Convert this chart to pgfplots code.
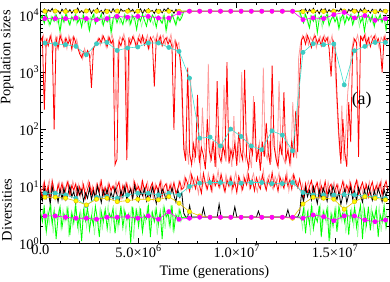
\documentclass[border=0pt]{standalone}
\usepackage{pgfplots}
\pgfplotsset{compat=1.18}
\usepackage{pgfplotstable}
\usepackage{fontspec}
\setmainfont{Liberation Serif}
\definecolor{cred}{HTML}{FF0000}
\definecolor{clred}{HTML}{FF9A9A}
\definecolor{cgreen}{HTML}{00FF00}
\definecolor{clgreen}{HTML}{9CFF9C}
\definecolor{cturq}{HTML}{40E0D0}
\definecolor{cturqm}{HTML}{3CCBC3}
\definecolor{cyelline}{HTML}{E6C400}
\definecolor{cyel}{HTML}{FFFF00}
\definecolor{cmag}{HTML}{FF00FF}

% t in units of 10^6 generations
\pgfplotstableread{
t bp gp rp bd gd rd
0.0 12100 8600 3400 7.5 3.6 9.2
0.1 11300 9800 4100 5.6 2.4 6.1
0.2 12800 7200 220 9.1 4.2 11.8
0.3 10700 10400 3700 6.3 1.6 7.4
0.4 12400 8100 2900 8.4 3.1 10.1
0.5 11600 6900 4300 4.9 4.6 5.7
0.6 13100 9300 3200 9.8 2.2 12.6
0.7 11000 7800 100 6.8 3.8 8.3
0.8 12300 10100 3900 7.9 1.2 6.6
0.9 11900 8400 2600 5.3 2.9 10.8
1.0 10600 5100 4400 8.8 4.4 7.9
1.1 12700 9600 3500 6.1 1.9 11.4
1.2 11400 7500 2800 9.4 3.3 6.4
1.3 13000 10600 4000 5.8 2.6 9.7
1.4 11200 8300 3100 7.2 4.1 12.2
1.5 12500 6700 3800 10.2 1.4 7.1
1.6 10800 9400 2500 6.6 3.5 10.4
1.7 12200 8000 4200 8.1 2.3 8.6
1.8 11700 10200 3300 5.1 4.7 11.1
1.9 13300 7400 2700 9.6 2.0 6.9
2.0 11100 8800 2100 7.0 3.2 9.9
2.1 12000 6200 1800 8.7 1.1 7.6
2.2 10900 9900 2300 5.5 3.9 10.6
2.3 12600 7700 1900 7.7 2.5 6.2
2.4 11500 9000 2400 6.2 4.3 8.9
2.5 12900 5400 2000 9.3 1.7 11.5
2.6 10700 8500 530 5.9 3.0 7.3
2.7 12300 10300 2600 8.3 2.1 9.4
2.8 11800 7100 3000 6.4 4.5 5.9
2.9 13200 9200 3400 10.0 2.7 10.9
3.0 11300 8200 3900 7.4 1.3 8.1
3.1 12100 10500 3300 5.2 3.6 12.4
3.2 10500 6600 4300 8.6 2.4 7.0
3.3 12700 8900 3600 6.7 4.0 9.6
3.4 11600 7600 2800 9.0 1.8 6.7
3.5 12400 9700 4100 5.7 3.4 11.0
3.6 11000 4900 3200 7.8 2.8 8.4
3.7 13000 8700 3700 6.0 4.2 10.2
3.8 11400 10000 24 9.5 1.5 7.7
3.9 12200 7300 30 7.1 3.0 9.8
4.0 10800 9500 3500 5.4 2.2 12.0
4.1 12800 8300 2900 8.5 4.6 6.5
4.2 11700 6800 4000 6.5 1.9 10.5
4.3 12000 10200 3400 9.9 3.7 8.0
4.4 11100 8000 29 5.8 2.6 11.3
4.5 13100 9300 3800 7.6 3.3 7.2
4.6 11500 7000 3100 8.9 1.0 9.3
4.7 12600 9800 4200 6.1 4.4 6.3
4.8 10900 8600 3600 10.3 2.3 11.9
4.9 12300 5600 2700 7.3 3.8 8.7
5.0 11800 9100 3900 5.5 2.0 10.0
5.1 12900 7900 3300 8.2 4.1 7.5
5.2 10600 10400 4400 6.9 1.6 12.5
5.3 12500 8100 3000 9.2 3.1 8.2
5.4 11200 6400 3700 5.6 2.7 10.7
5.5 13000 9400 2600 8.0 4.5 6.8
5.6 11600 7700 4100 6.6 1.3 9.5
5.7 12100 10100 3500 9.7 3.5 11.6
5.8 10700 8800 560 7.2 2.4 7.8
5.9 12700 6100 3800 5.0 4.0 10.3
6.0 11400 9600 3200 8.7 2.1 8.5
6.1 12400 8200 4300 6.3 3.6 12.1
6.2 11000 7200 2900 9.0 1.2 6.6
6.3 12800 9900 3600 7.5 4.3 9.9
6.4 11900 5300 4000 5.9 2.9 11.2
6.5 13300 8900 3100 8.4 3.4 7.4
6.6 11300 7500 3700 6.8 2.0 10.6
6.7 12200 10300 2800 9.4 4.7 8.0
6.8 10800 8400 98 7.0 1.7 11.7
6.9 12600 6700 3400 5.3 3.2 7.6
7.0 11500 9500 2500 8.6 2.5 9.1
7.1 12000 8000 1900 6.4 3.9 12.3
7.2 11700 9200 800 7.7 2.8 8.8
7.3 11700 11700 45 3.4 2.88 9.5
7.4 11700 11700 28 2.9 2.88 14
7.5 11700 11700 1200 2.9 2.88 11
7.6 11700 11700 38 4.6 2.88 8.2
7.7 11700 11700 24 2.9 2.88 16
7.8 11700 11700 55 2.9 2.88 12
7.9 11700 11700 32 2.9 2.88 9.1
8.0 11700 11700 400 2.9 2.88 14.5
8.1 11700 11700 26 2.9 2.88 10.5
8.2 11700 11700 48 2.9 2.88 7.6
8.3 11700 11700 35 4.2 2.88 17
8.4 11700 11700 20 2.9 2.88 11.5
8.5 11700 11700 150 2.9 2.88 9.0
8.6 11700 11700 42 2.9 2.88 13.5
8.7 11700 11700 30 2.9 2.88 8.5
8.8 11700 11700 62 2.9 2.88 15.5
8.9 11700 11700 22 2.9 2.88 10.2
9.0 11700 11700 700 2.9 2.88 12.5
9.1 11700 11700 36 4.9 2.88 9.6
9.2 11700 11700 27 2.9 2.88 16.5
9.3 11700 11700 51 2.9 2.88 11
9.4 11700 11700 33 2.9 2.88 8.0
9.5 11700 11700 1500 2.9 2.88 13
9.6 11700 11700 25 2.9 2.88 10
9.7 11700 11700 44 2.9 2.88 14.8
9.8 11700 11700 31 2.9 2.88 9.3
9.9 11700 11700 58 4.4 2.88 12
10.0 11700 11700 23 2.9 2.88 7.8
10.1 11700 11700 90 2.9 2.88 15
10.2 11700 11700 40 2.9 2.88 11.2
10.3 11700 11700 29 2.9 2.88 8.8
10.4 11700 11700 1100 2.9 2.88 13.8
10.5 11700 11700 34 2.9 2.88 10.6
10.6 11700 11700 21 2.9 2.88 16
10.7 11700 11700 53 2.9 2.88 9.4
10.8 11700 11700 37 2.9 2.88 12.8
10.9 11700 11700 300 2.9 2.88 8.4
11.0 11700 11700 27 2.9 2.88 14.2
11.1 11700 11700 46 3.7 2.88 10.8
11.2 11700 11700 19 2.9 2.88 9.0
11.3 11700 11700 61 2.9 2.88 15.8
11.4 11700 11700 33 2.9 2.88 11.6
11.5 11700 11700 130 2.9 2.88 8.6
11.6 11700 11700 39 2.9 2.88 13.2
11.7 11700 11700 24 2.9 2.88 10.4
11.8 11700 11700 1300 2.9 2.88 17.5
11.9 11700 11700 50 2.9 2.88 9.8
12.0 11700 11700 30 2.9 2.88 12.2
12.1 11700 11700 22 2.9 2.88 8.2
12.2 11700 11700 56 2.9 2.88 14.6
12.3 11700 11700 35 2.9 2.88 11.4
12.4 11700 11700 450 2.9 2.88 9.2
12.5 11700 11700 28 2.9 2.88 15.2
12.6 11700 11700 43 3.9 2.88 10.2
12.7 11700 11700 25 2.9 2.88 13.0
12.8 11700 11700 64 2.9 2.88 8.9
12.9 11700 11700 32 2.9 2.88 16.2
13.0 11700 11700 210 2.9 2.88 11.8
13.1 11700 11700 40 2.9 2.88 9.5
13.2 11700 11700 800 3.5 2.88 13.5
13.3 12400 9100 3700 7.8 2.6 8.9
13.4 11100 7300 4200 5.4 4.1 6.1
13.5 12900 10300 3100 9.6 1.5 11.2
13.6 10800 8200 4400 6.6 3.5 7.5
13.7 12600 6000 3500 8.5 2.2 10.0
13.8 11500 9500 2700 5.8 4.4 12.6
13.9 13200 7800 3900 9.9 1.8 7.9
14.0 11200 10000 4300 7.1 3.0 9.8
14.1 12200 4900 3200 5.0 2.4 11.6
14.2 10600 8700 3800 8.8 4.6 6.7
14.3 12800 9800 2900 6.2 1.3 10.3
14.4 11700 7100 4100 9.3 3.7 8.4
14.5 13000 9000 3400 7.4 2.7 12.2
14.6 11000 10500 4000 5.5 4.2 7.0
14.7 12500 6500 2600 8.9 1.1 9.5
14.8 11400 8400 840 6.7 3.3 11.0
14.9 12700 9700 3600 10.1 2.0 6.4
15.0 10900 7600 3000 7.6 3.9 8.7
15.1 12300 9300 400 5.9 1.6 10.8
15.2 11600 5800 80 8.0 4.5 7.2
15.3 13100 8800 25 4.8 2.8 9.0
15.4 11300 10200 150 6.9 3.4 12.4
15.5 12000 7000 40 9.0 2.3 7.7
15.6 10700 9600 22 5.2 4.0 10.5
15.7 12600 8100 300 7.3 1.4 8.2
15.8 11800 10100 60 9.7 3.6 11.4
15.9 12900 6800 2600 6.0 2.5 6.8
16.0 11100 9400 3800 8.3 4.3 10.1
16.1 12400 8500 3300 5.6 1.9 12.8
16.2 10800 10400 33 9.5 3.1 7.4
16.3 12800 7400 4200 7.0 4.7 9.6
16.4 11500 9000 3600 5.3 1.2 11.8
16.5 13300 5200 4400 8.7 3.8 8.1
16.6 11200 8900 3100 6.4 2.1 10.7
16.7 12100 10000 4000 10.0 4.4 6.5
16.8 10900 7700 2800 7.7 1.7 9.3
16.9 12700 9900 3700 5.7 3.5 12.0
17.0 11600 6300 4300 8.4 2.6 7.8
17.1 12300 9200 3200 6.1 4.1 10.4
17.2 11000 8000 3900 9.2 1.3 8.6
17.3 12800 10200 2900 7.2 3.2 11.5
17.4 11400 7500 1000 5.4 2.4 7.1
17.5 12500 9400 4100 8.8 4.6 9.9
17.6 10700 5500 3500 6.5 1.9 12.5
17.7 12200 8700 3800 9.4 3.0 8.3
}\noisy

% lighter companion series
\pgfplotstableread{
t lp ld lgp lgd
0.05 3600 8.1 9200 2.8
0.15 4500 11.3 7600 4.3
0.25 2800 6.4 10100 1.9
0.35 3900 9.6 8300 3.6
0.45 3300 12.8 6400 2.2
0.55 4600 7.2 9700 4.8
0.65 2400 10.4 8000 1.5
0.75 3700 5.9 10500 3.3
0.85 4200 9.0 7300 2.6
0.95 3000 12.0 8900 4.0
1.05 4700 7.7 6100 1.8
1.15 3200 10.9 9400 3.9
1.25 3900 6.3 8200 2.4
1.35 2600 11.7 10300 4.5
1.45 4400 8.5 7000 1.3
1.55 3500 6.8 9000 3.1
1.65 4100 12.3 8500 2.0
1.75 2900 9.2 10000 4.2
1.85 3800 7.0 6800 2.7
1.95 2500 10.8 9500 1.6
2.05 2200 6.6 7900 3.7
2.15 1700 11.9 9900 2.3
2.25 2600 8.0 7200 4.6
2.35 2000 9.9 8700 1.9
2.45 2300 12.6 5800 3.4
2.55 1800 7.4 9300 2.5
2.65 2500 10.2 8100 4.1
2.75 2900 6.1 10400 1.4
2.85 3300 11.1 7500 3.0
2.95 4000 8.3 9100 2.1
3.05 3000 12.5 8600 4.4
3.15 4500 6.9 6900 1.7
3.25 3700 9.7 10000 3.5
3.35 2700 7.9 8400 2.9
3.45 4300 11.4 7700 4.7
3.55 3400 6.5 9600 1.5
3.65 4600 10.0 5500 3.2
3.75 3100 8.8 9000 2.2
3.85 200 12.2 8300 4.0
3.95 2900 7.3 10200 1.8
4.05 4200 10.6 7100 3.6
4.15 3600 6.2 8800 2.7
4.25 4700 9.4 9700 4.3
4.35 3300 11.8 7400 1.6
4.45 45 7.6 8900 3.0
4.55 4000 10.3 6600 2.4
4.65 3500 6.7 10100 4.5
4.75 4400 12.7 8200 1.2
4.85 2800 8.2 9300 3.8
4.95 3900 10.9 7600 2.6
5.05 4600 7.1 9800 4.2
5.15 3200 11.5 6300 1.9
5.25 4100 6.4 8700 3.3
5.35 3600 9.5 10300 2.3
5.45 4500 12.1 7800 4.6
5.55 2700 7.8 9100 1.7
5.65 3800 10.1 8500 3.5
5.75 4300 6.0 6700 2.8
5.85 3400 11.2 9900 4.1
5.95 4700 8.6 8000 1.4
6.05 3100 6.8 9400 3.2
6.15 3900 12.4 7300 2.5
6.25 4500 9.1 10000 4.4
6.35 3000 7.0 8600 1.8
6.45 4200 10.7 6000 3.7
6.55 3500 6.5 9200 2.1
6.65 4600 11.6 8300 4.8
6.75 2600 8.4 10200 1.6
6.85 3700 9.8 7200 3.0
6.95 2900 6.9 9000 2.7
7.05 3300 12.0 8100 4.0
7.15 1100 8.7 9600 2.4
7.25 120 10.5 11700 2.88
7.35 35 15 11700 2.88
7.45 52 8.8 11700 2.88
7.55 24 12.6 11700 2.88
7.65 800 18 11700 2.88
7.75 40 9.6 11700 2.88
7.85 28 14 11700 2.88
7.95 66 11 11700 2.88
8.05 33 7.4 11700 2.88
8.15 21 16.5 11700 2.88
8.25 240 10.2 11700 2.88
8.35 45 13 11700 2.88
8.45 30 9 11700 2.88
8.55 1400 17 11700 2.88
8.65 26 11.8 11700 2.88
8.75 58 8.2 11700 2.88
8.85 37 15.2 11700 2.88
8.95 23 12 11700 2.88
9.05 95 19 11700 2.88
9.15 48 9.8 11700 2.88
9.25 31 13.5 11700 2.88
9.35 600 8.6 11700 2.88
9.45 27 16 11700 2.88
9.55 61 11.2 11700 2.88
9.65 39 14.2 11700 2.88
9.75 22 7.9 11700 2.88
9.85 170 12.4 11700 2.88
9.95 34 17.8 11700 2.88
10.05 55 10 11700 2.88
10.15 26 13.8 11700 2.88
10.25 1000 8.4 11700 2.88
10.35 42 15.6 11700 2.88
10.45 29 11.6 11700 2.88
10.55 68 18.6 11700 2.88
10.65 35 9.2 11700 2.88
10.75 21 13 11700 2.88
10.85 380 16.8 11700 2.88
10.95 47 10.6 11700 2.88
11.05 32 8 11700 2.88
11.15 59 14.6 11700 2.88
11.25 25 11.4 11700 2.88
11.35 1200 19.5 11700 2.88
11.45 40 9.4 11700 2.88
11.55 30 13.4 11700 2.88
11.65 63 16 11700 2.88
11.75 27 10.8 11700 2.88
11.85 110 8.8 11700 2.88
11.95 44 15 11700 2.88
12.05 23 12.2 11700 2.88
12.15 700 17.2 11700 2.88
12.25 52 9.7 11700 2.88
12.35 33 14 11700 2.88
12.45 26 11 11700 2.88
12.55 67 18 11700 2.88
12.65 38 8.3 11700 2.88
12.75 24 13.2 11700 2.88
12.85 300 15.8 11700 2.88
12.95 49 10.4 11700 2.88
13.05 31 12.6 11700 2.88
13.15 1800 9.5 11700 2.88
13.25 3300 8.2 9400 3.1
13.35 4400 11.0 7700 1.8
13.45 3600 6.6 10300 4.2
13.55 4700 9.7 8500 2.5
13.65 3000 12.3 6500 3.8
13.75 4100 7.4 9800 1.4
13.85 3500 10.5 8100 4.5
13.95 4600 6.3 10000 2.2
14.05 2700 11.6 7000 3.4
14.15 3800 8.6 9300 2.9
14.25 4300 12.5 8800 4.7
14.35 3200 7.2 6000 1.6
14.45 4500 10.1 9600 3.6
14.55 3700 6.8 8300 2.3
14.65 4200 11.9 10100 4.0
14.75 3100 8.0 7400 1.2
14.85 4400 9.3 9000 3.3
14.95 2300 12.0 8600 2.6
15.05 600 7.0 10200 4.4
15.15 120 10.9 6600 1.9
15.25 35 8.3 9500 3.7
15.35 260 6.5 8000 2.4
15.45 28 11.8 10000 4.6
15.55 90 9.1 7600 1.5
15.65 450 7.6 9200 3.2
15.75 1000 12.6 8400 2.8
15.85 2400 8.9 10400 4.1
15.95 4000 6.2 7100 2.0
16.05 3400 10.4 9700 3.9
16.15 4500 12.4 8800 1.3
16.25 3000 7.8 6200 3.5
16.35 4200 9.9 9900 2.6
16.45 3600 6.6 8200 4.8
16.55 4700 11.3 10100 1.7
16.65 2800 8.4 7300 3.0
16.75 3900 12.1 9400 2.3
16.85 4400 7.0 8700 4.3
16.95 3300 10.0 6800 1.9
17.05 4600 6.5 10000 3.6
17.15 3700 11.7 8300 2.7
17.25 2600 8.8 9600 4.4
17.35 4100 12.7 7500 1.6
17.45 3500 7.3 9100 3.4
17.55 4500 10.6 8600 2.2
17.65 3200 9.4 10300 3.9
}\lite

\pgfplotstableread{
t cp yp mp cd yd md
0.23 3250 11700 8700 7.6 6.47 3.04
0.76 3130 11800 8700 7.6 6.47 3.04
1.28 3040 11600 8700 7.1 6.21 2.88
1.81 2840 11700 8900 6.21 5.57 2.77
2.34 2030 11800 8700 4.6 4.74 2.77
2.86 3160 11700 8300 6.47 5.96 2.66
3.39 3330 11600 8700 6.62 6.21 2.88
3.91 2410 11800 9500 6.21 5.41 2.88
4.44 2660 11700 9200 7.1 5.63 2.95
4.96 2770 11700 9500 7.6 5.96 2.77
5.49 3250 11800 9500 7.6 5.96 3.04
6.01 3250 11600 8900 7.1 5.81 2.66
6.54 2720 11700 8900 7.6 6.62 3.61
7.06 2320 11700 10900 7.1 5.07 2.66
7.59 790 11700 11700 10.0 3.61 2.77
8.11 70 11700 11700 11.4 3.04 2.88
8.64 73 11700 11700 11.7 2.88 2.88
9.17 51 11700 11700 11.7 2.88 2.88
9.69 101 11700 11700 11.4 2.88 2.88
10.22 75 11700 11700 11.4 2.88 2.88
10.74 51 11700 11700 11.7 2.88 2.88
11.27 44 11700 11700 11.7 2.88 2.88
11.79 94 11700 11700 11.2 2.88 2.88
12.32 79 11700 11700 11.2 2.88 2.88
12.84 42 11700 11700 11.7 2.77 2.88
13.37 2230 11500 8340 7.8 4.93 2.77
13.89 3160 11700 8930 7.1 6.47 3.16
14.42 3040 11600 8690 7.1 6.21 2.95
14.94 3130 11700 10200 7.1 5.96 2.51
15.47 600 11800 11200 7.2 3.98 3.04
15.99 2380 11700 8930 7.1 5.41 3.04
16.52 2840 11600 9800 6.8 6.62 2.58
17.04 3330 11500 8110 6.5 6.21 2.41
17.57 3330 11700 8690 6.2 5.81 2.58
}\marks

\begin{document}
\fontsize{14.5}{17}\selectfont
\begin{tikzpicture}
\begin{axis}[
  scale only axis, width=348.6bp, height=241.5bp,
  ymode=log, xmin=0, xmax=17.75, ymin=1, ymax=17000,
  xtick={0,5,10,15},
  xticklabels={0.0, 5.0×10\textsuperscript{6}, 1.0×10\textsuperscript{7}, 1.5×10\textsuperscript{7}},
  minor x tick num=4,
  ytick={1,10,100,1000,10000},
  yticklabels={10\textsuperscript{0},10\textsuperscript{1},10\textsuperscript{2},10\textsuperscript{3},10\textsuperscript{4}},
  tick align=inside, tick pos=both,
  major tick length=6bp, minor tick length=3bp,
  axis line style={line width=0.8bp},
  every tick/.style={black, line width=0.6bp},
  xticklabel style={inner sep=1.5bp},
  yticklabel style={inner sep=1bp},
  clip=true,
]
\addplot[clred, line width=0.8bp] table[x=t,y=lp] {\lite};
\addplot[cred, line width=0.8bp] table[x=t,y=rp] {\noisy};
\addplot[clred, line width=0.8bp] table[x=t,y=ld] {\lite};
\addplot[cred, line width=0.8bp] table[x=t,y=rd] {\noisy};
\addplot[black, line width=0.8bp] table[x=t,y=bp] {\noisy};
\addplot[black, line width=0.8bp] table[x=t,y=bd] {\noisy};
\addplot[clgreen, line width=0.7bp] table[x=t,y=lgp] {\lite};
\addplot[clgreen, line width=0.7bp] table[x=t,y=lgd] {\lite};
\addplot[cgreen, line width=0.8bp] table[x=t,y=gp] {\noisy};
\addplot[cgreen, line width=0.8bp] table[x=t,y=gd] {\noisy};
\addplot[cturq, line width=0.6bp, mark=*, mark size=2.1bp, mark options={fill=cturqm, draw=cturqm}] table[x=t,y=cp] {\marks};
\addplot[cturq, line width=0.6bp, mark=*, mark size=2.1bp, mark options={fill=cturqm, draw=cturqm}] table[x=t,y=cd] {\marks};
\addplot[cyelline, line width=0.6bp, mark=*, mark size=2.1bp, mark options={fill=cyel, draw=cyelline}] table[x=t,y=yp] {\marks};
\addplot[cyelline, line width=0.6bp, mark=*, mark size=2.1bp, mark options={fill=cyel, draw=cyelline}] table[x=t,y=yd] {\marks};
\addplot[cmag, line width=0.6bp, mark=*, mark size=2.1bp, mark options={fill=cmag, draw=cmag}] table[x=t,y=mp] {\marks};
\addplot[cmag, line width=0.6bp, mark=*, mark size=2.1bp, mark options={fill=cmag, draw=cmag}] table[x=t,y=md] {\marks};
\end{axis}
\node[rotate=90] at (-33.4bp,186bp) {Population sizes};
\node[rotate=90] at (-33.4bp,33.5bp) {Diversities};
\node at (174bp,-28.5bp) {Time (generations)};
\node at (321.3bp,143.5bp) {\fontsize{18}{20}\selectfont (a)};
\pgfresetboundingbox
\path[use as bounding box] (-40.4bp,-38.5bp) rectangle (349.6bp,243.5bp);
\end{tikzpicture}
\end{document}
